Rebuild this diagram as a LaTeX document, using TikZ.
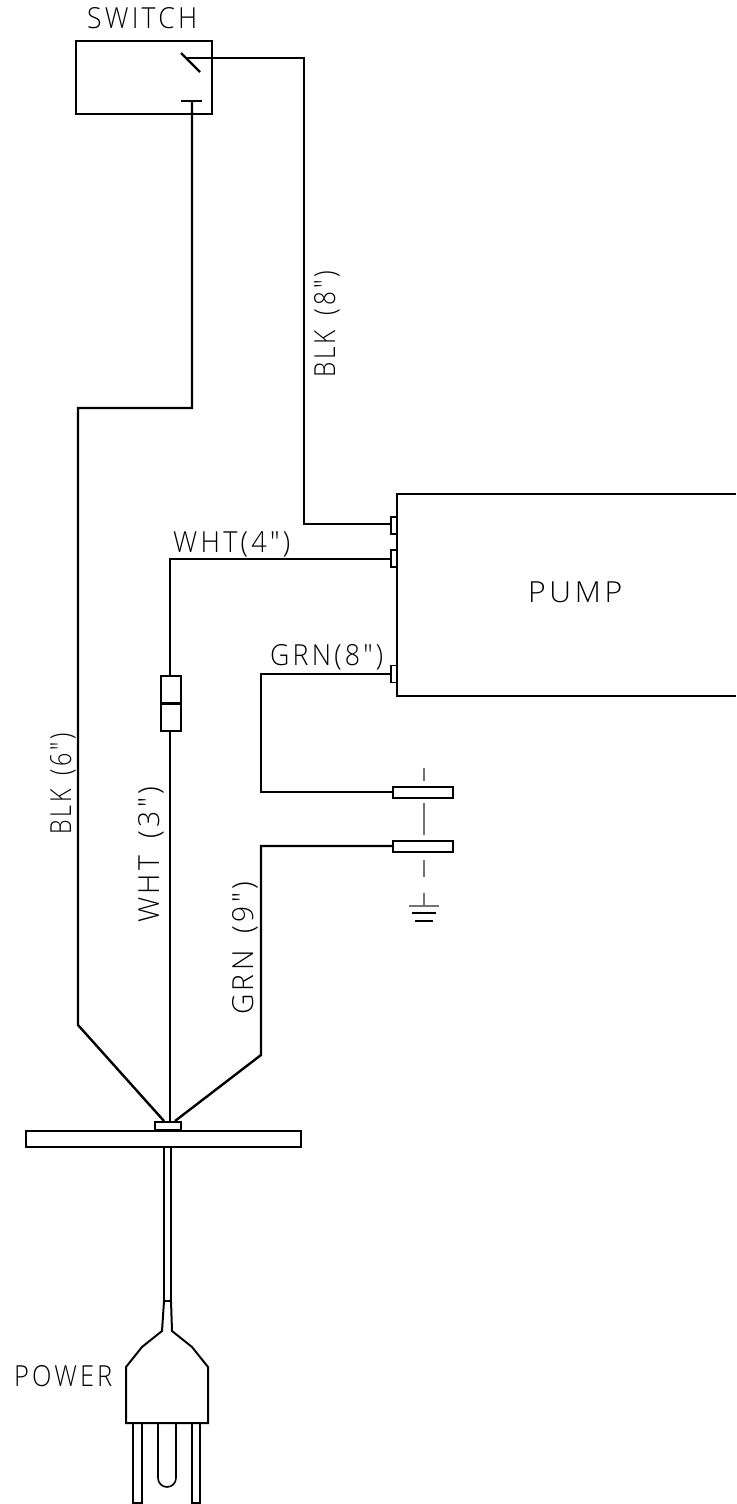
\documentclass[tikz,border=0pt]{standalone}
\usepackage{fontspec}
\usepackage{graphicx}
\setmainfont[LetterSpace=12,WordSpace=1.6]{Open Sans Light}
\newsavebox{\fitbox}
\newcommand{\fitw}[2]{\sbox{\fitbox}{#2}\pgfmathsetmacro{\fitr}{#1/(\the\wd\fitbox)}\scalebox{\fitr}[1]{\usebox{\fitbox}}}
\tikzset{
  wire/.style={line width=2.4pt,line join=miter},
  box/.style={draw,line width=2.4pt,fill=white,inner sep=0pt,minimum width=#1},
  thinbox/.style={draw,line width=1.8pt,fill=white,inner sep=0pt},
  gnd/.style={draw=black!55,line width=1.4pt},
  lbl/.style={inner sep=0pt,text=black,font=\fontsize{29}{29}\selectfont,anchor=base west},
}
\begin{document}
\begin{tikzpicture}[x=1pt,y=-1pt]
\useasboundingbox (0,0) rectangle (736,1504);
% junction coordinates
\coordinate (bladeT) at (181,53);
\coordinate (bladeB) at (200,72);
\coordinate (swOut) at (186,58);
\coordinate (swBendA) at (304,58);
\coordinate (swBendB) at (304,524);
\coordinate (contL) at (181,101);
\coordinate (contR) at (202,101);
\coordinate (contM) at (192,101);
\coordinate (blkA) at (192,408);
\coordinate (blkB) at (78,408);
\coordinate (blkC) at (78,1025);
\coordinate (gndA) at (170,559);
\coordinate (grnA) at (261,674);
\coordinate (grnB) at (261,792);
\coordinate (grnC) at (261,846);
\coordinate (grnD) at (261,1055);
\coordinate (hubL) at (164,1121);
\coordinate (hubM) at (170,1121);
\coordinate (hubR) at (175,1121);
% switch
\node[box=136pt,minimum height=73pt] (switch) at (144,77.5) {};
\draw[wire] (bladeT) -- (bladeB);
\draw[wire] (contL) -- (contR);
% pump
\draw[wire] (736,494) -- (397,494) -- (397,696) -- (736,696);
\node[thinbox,minimum width=6pt,minimum height=17pt] (t1) at (394,525.5) {};
\node[thinbox,minimum width=6pt,minimum height=17pt] (t2) at (394,558.5) {};
\node[thinbox,minimum width=6pt,minimum height=17pt] (t3) at (394,674) {};
% fuse
\node[box=20pt,minimum height=27.5pt] (fuseA) at (171,689.75) {};
\node[box=20pt,minimum height=27.5pt] (fuseB) at (171,717.25) {};
% connectors
\node[thinbox,minimum width=60pt,minimum height=11pt] (c1) at (423,792.5) {};
\node[thinbox,minimum width=60pt,minimum height=11pt] (c2) at (423,846.5) {};
% hub and bar
\node[box=26pt,minimum height=8pt] (hub) at (168,1126) {};
\node[box=275pt,minimum height=16pt] (bar) at (163.5,1139) {};
% wires
\draw[wire] (swOut) -- (swBendA) -- (swBendB) -- (t1.west |- swBendB);
\draw[wire] (contM) -- (blkA) -- (blkB) -- (blkC) -- (hubL);
\draw[wire] (t2.west |- gndA) -- (gndA) -- (fuseA.north -| gndA);
\draw[wire] (fuseB.south -| gndA) -- (hubM);
\draw[wire] (t3.west |- grnA) -- (grnA) -- (grnB) -- (c1.west |- grnB);
\draw[wire] (c2.west |- grnC) -- (grnC) -- (grnD) -- (hubR);
% ground dashes
\coordinate (g0) at (424,768);
\coordinate (g1) at (424,781);
\coordinate (g2) at (424,803);
\coordinate (g3) at (424,835);
\coordinate (g4) at (424,860);
\coordinate (g5) at (424,877);
\coordinate (g6) at (424,893);
\coordinate (g7) at (424,906);
\draw[gnd] (g0) -- (g1);
\draw[gnd] (g2) -- (g3);
\draw[gnd] (g4) -- (g5);
\draw[gnd] (g6) -- (g7);
\draw[gnd] (409,906) -- (439,906);
\draw[line width=1.1pt] (412,913) -- (436,913);
\draw[line width=1.1pt] (415,921) -- (433,921);
% plug
\coordinate (pl) at (164,1147);
\coordinate (pr) at (171,1147);
\draw[line width=2pt] (bar.south -| pl) -- (164,1301);
\draw[line width=2pt] (bar.south -| pr) -- (171,1301);
\draw[line width=1.6pt] (164,1301) -- (171,1301);
\draw[line width=2pt,line join=miter] (164,1301) -- (162,1331) -- (142,1347) -- (126,1367) -- (126,1423) -- (208,1423) -- (208,1367) -- (192,1347) -- (172,1331) -- (171,1301);
\draw[line width=2pt] (133,1423) -- (133,1503) -- (142,1503) -- (142,1423);
\draw[line width=2pt] (192,1423) -- (192,1503) -- (200,1503) -- (200,1423);
\draw[line width=1.6pt] (158,1423) -- (158,1478) arc[start angle=180,end angle=0,radius=9] -- (176,1423);
% labels
\node[lbl] (lswitch) at (87,29) {\fitw{110}{SWITCH}};
\node[lbl] (lpump) at (528,602) {\fitw{94}{PUMP}};
\node[lbl] (lwht4) at (173,552) {\fitw{117}{WHT(4″)}};
\node[lbl] (lgrn8) at (270,665) {\fitw{113}{GRN(8″)}};
\node[lbl] (lpower) at (14,1386) {\fitw{98}{POWER}};
\node[lbl,rotate=90] (lblk8) at (335,378) {\fitw{107}{BLK (8″)}};
\node[lbl,rotate=90] (lblk6) at (71,835) {\fitw{102}{BLK (6″)}};
\node[lbl,rotate=90] (lwht3) at (159,923) {\fitw{136}{WHT (3″)}};
\node[lbl,rotate=90] (lgrn9) at (253,1015) {\fitw{133}{GRN (9″)}};
\end{tikzpicture}
\end{document}
